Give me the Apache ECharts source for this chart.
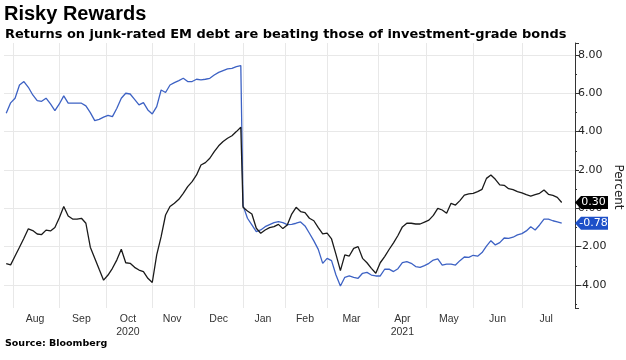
<!DOCTYPE html>
<html><head><meta charset="utf-8">
<script src="https://cdn.jsdelivr.net/npm/echarts@6/dist/echarts.min.js"></script>
<style>html,body{margin:0;padding:0;background:#fff}#c{width:626px;height:360px}</style>
</head><body><div id="c"></div>
<script>
// ---- data ----
const startDate = '2020-07-28';
const endDate = '2021-08-04';
const holidays = ['2020-09-07','2020-10-12','2020-11-11','2020-11-26','2020-12-25','2021-01-01','2021-01-18','2021-02-15'];
const monthKeys = ['2020-08','2020-09','2020-10','2020-11','2020-12','2021-01','2021-02','2021-03','2021-04','2021-05','2021-06','2021-07'];
const monthLabels = ['Aug','Sep','Oct','Nov','Dec','Jan','Feb','Mar','Apr','May','Jun','Jul'];
const yearLabels = {'2020-10':'2020','2021-04':'2021'};
const titleText = 'Risky Rewards';
const subtitleText = 'Returns on junk-rated EM debt are beating those of investment-grade bonds';
const sourceText = 'Source: Bloomberg';
const axisName = 'Percent';
// every second trading day, 2020 part ends on 2020-12-31, 2021 part starts 2021-01-04
const ig2020 = [4.95,5.5,5.74,6.43,6.61,6.31,5.91,5.61,5.58,5.74,
  5.44,5.09,5.44,5.86,5.48,5.48,5.48,5.48,5.34,4.99,
  4.57,4.64,4.75,4.85,4.78,5.22,5.74,6.0,5.96,5.68,
  5.39,5.51,5.13,4.92,5.3,6.17,6.04,6.43,6.55,6.66,
  6.78,6.61,6.61,6.73,6.7,6.73,6.78,6.95,7.09,7.18,
  7.27,7.3,7.39,7.44];
const junk2020 = [-2.89,-2.95,-2.49,-2.03,-1.56,-1.07,-1.16,-1.34,-1.37,-1.14,
  -1.18,-1.0,-0.49,0.09,-0.4,-0.56,-0.57,-0.52,-0.78,-2.03,
  -2.6,-3.18,-3.75,-3.48,-3.13,-2.69,-2.14,-2.84,-2.87,-3.08,
  -3.22,-3.3,-3.65,-3.87,-2.43,-1.48,-0.35,0.09,0.26,0.47,
  0.78,1.13,1.39,1.74,2.26,2.38,2.61,2.96,3.26,3.48,
  3.65,3.78,4.0,4.23];
const junk2021 = [0.05,-0.14,-0.3,-1.04,-1.3,-1.13,-1.01,-0.96,-0.84,-1.06,
  -0.87,-0.3,0.05,-0.17,-0.23,-0.52,-0.65,-1.01,-1.34,-1.3,
  -1.6,-2.4,-3.25,-2.43,-2.49,-2.09,-2.0,-2.61,-2.84,-3.13,
  -3.39,-2.84,-2.52,-2.15,-1.8,-1.42,-0.97,-0.78,-0.78,-0.82,
  -0.82,-0.72,-0.62,-0.37,0.0,-0.09,-0.26,0.26,0.17,0.4,
  0.69,0.75,0.78,0.87,0.99,1.56,1.74,1.51,1.22,1.2,
  1.02,0.97,0.87,0.8,0.71,0.64,0.71,0.78,0.95,0.73,
  0.67,0.57,0.30];
const ig2021 = [0.15,-0.52,-0.87,-1.22,-1.13,-0.96,-0.85,-0.75,-0.70,-0.75,
  -0.85,-0.84,-0.78,-0.71,-0.92,-1.3,-1.7,-2.14,-2.87,-2.61,
  -2.73,-3.48,-4.05,-3.6,-3.53,-3.6,-3.65,-3.39,-3.34,-3.48,
  -3.53,-3.53,-3.18,-3.17,-3.3,-3.15,-2.83,-2.78,-2.87,-3.04,
  -3.08,-2.99,-2.87,-2.7,-2.64,-2.96,-2.91,-2.91,-2.96,-2.73,
  -2.54,-2.56,-2.45,-2.5,-2.31,-1.97,-1.69,-1.91,-1.79,-1.55,
  -1.57,-1.51,-1.39,-1.32,-1.18,-0.96,-1.13,-0.87,-0.57,-0.57,
  -0.65,-0.71,-0.78];

// ---- categories: trading days ----
const dates = [];
for (let t = Date.parse(startDate); t <= Date.parse(endDate); t += 86400000) {
  const d = new Date(t), wd = d.getUTCDay(), s = d.toISOString().slice(0, 10);
  if (wd === 0 || wd === 6 || holidays.includes(s)) continue;
  dates.push(s);
}
const end2020 = dates.indexOf('2020-12-31');
const start2021 = dates.indexOf('2021-01-04');
function build(a, b) {
  const out = [];
  a.forEach((v, i) => out.push([end2020 - 2 * (a.length - 1 - i), v]));
  b.forEach((v, j) => out.push([start2021 + 2 * j, v]));
  return out;
}
const splitIdx = new Set(), labelIdx = new Set(), labelText = {};
monthKeys.forEach((k, m) => {
  let f = -1, l = -1;
  dates.forEach((d, i) => { if (d.slice(0, 7) === k) { if (f < 0) f = i; l = i; } });
  splitIdx.add(f);
  const c = Math.round((f + l) / 2);
  labelIdx.add(c);
  labelText[c] = monthLabels[m] + (yearLabels[k] ? '\n' + yearLabels[k] : '');
});
const lastIdx = dates.length - 1;
const lastJunk = junk2021[junk2021.length - 1];
const lastIg = ig2021[ig2021.length - 1];

function tag(val, color) {
  return {
    symbol: 'path://M0,6.5L6,0L33,0L33,13L6,13Z',
    symbolSize: [33, 13], symbolOffset: [16.5, 0], silent: true,
    itemStyle: { color: color },
    label: { show: true, position: 'inside', color: '#fff', fontSize: 11, fontFamily: 'DejaVu Sans', offset: [2, 0], formatter: () => val.toFixed(2) },
    data: [{ coord: [lastIdx, val] }]
  };
}

const chart = echarts.init(document.getElementById('c'), null, { renderer: 'canvas' });
chart.setOption({
  animation: false,
  backgroundColor: '#fff',
  textStyle: { fontFamily: 'DejaVu Sans' },
  title: [
    { text: titleText, left: 4, top: 4, padding: 0, textStyle: { fontFamily: 'Liberation Sans', fontWeight: 'bold', fontSize: 20, color: '#000' } },
    { text: subtitleText, left: 5, top: 28, padding: 0, textStyle: { fontFamily: 'DejaVu Sans', fontWeight: 'bold', fontSize: 12.95, color: '#000' } },
    { text: sourceText, left: 5, top: 339, padding: 0, textStyle: { fontFamily: 'DejaVu Sans', fontWeight: 'bold', fontSize: 9.5, color: '#000' } }
  ],
  grid: { left: 4, right: 51, top: 43, bottom: 52, containLabel: false, outerBoundsMode: 'none' },
  xAxis: {
    type: 'category', data: dates, boundaryGap: false,
    axisLine: { show: false }, axisTick: { show: false },
    splitLine: { show: true, interval: (i) => splitIdx.has(i), lineStyle: { color: '#e8e8e8', width: 1 } },
    axisLabel: { interval: (i) => labelIdx.has(i), formatter: (v, i) => labelText[i] || '', color: '#333', fontFamily: 'Liberation Sans', fontSize: 10.5, lineHeight: 13, margin: 5 }
  },
  yAxis: {
    type: 'value', position: 'right', min: -5.2, max: 8.62, splitNumber: 7,
    name: axisName, nameLocation: 'middle', nameRotate: -90, nameGap: 37, nameMoveOverlap: false,
    nameTextStyle: { color: '#222', fontSize: 12, padding: [0, 0, 0, 23] },
    axisLine: { show: true, lineStyle: { color: '#333' } },
    axisTick: { show: true, length: 4, lineStyle: { color: '#333' } },
    minorTick: { show: true, splitNumber: 2, length: 2, lineStyle: { color: '#333' } },
    axisLabel: { showMinLabel: false, showMaxLabel: false, formatter: (v) => v.toFixed(2), color: '#222', fontSize: 11, margin: 3 },
    splitLine: { show: true, showMinLine: false, showMaxLine: false, lineStyle: { color: '#e8e8e8' } }
  },
  series: [
    { type: 'line', name: 'IG', data: build(ig2020, ig2021), showSymbol: false, symbol: 'none',
      lineStyle: { color: '#3d62c4', width: 1.3 }, itemStyle: { color: '#3d62c4' }, z: 2,
      markPoint: tag(lastIg, '#1d50c8') },
    { type: 'line', name: 'Junk', data: build(junk2020, junk2021), showSymbol: false, symbol: 'none',
      lineStyle: { color: '#1a1a1a', width: 1.3 }, itemStyle: { color: '#1a1a1a' }, z: 3,
      markPoint: tag(lastJunk, '#000') }
  ]
});
</script>
</body></html>
